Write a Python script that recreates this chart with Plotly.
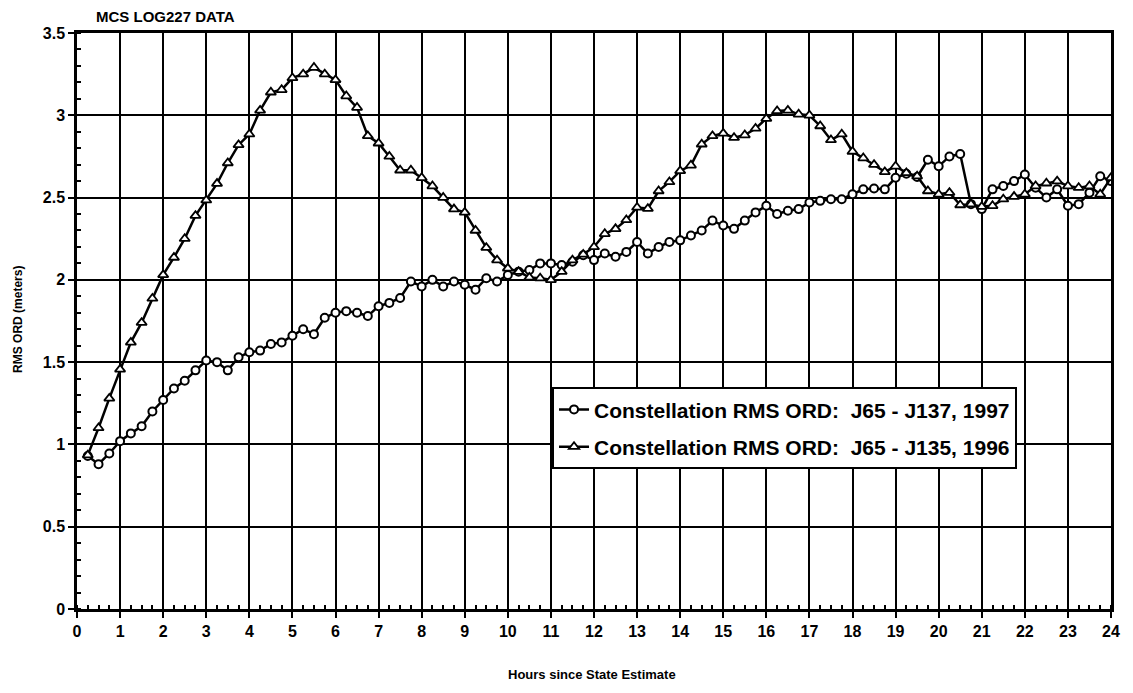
import plotly.graph_objects as go

hours = [0.25, 0.5, 0.75, 1.0, 1.25, 1.5, 1.75, 2.0, 2.25, 2.5, 2.75, 3.0,
         3.25, 3.5, 3.75, 4.0, 4.25, 4.5, 4.75, 5.0, 5.25, 5.5, 5.75, 6.0,
         6.25, 6.5, 6.75, 7.0, 7.25, 7.5, 7.75, 8.0, 8.25, 8.5, 8.75, 9.0,
         9.25, 9.5, 9.75, 10.0, 10.25, 10.5, 10.75, 11.0, 11.25, 11.5, 11.75, 12.0,
         12.25, 12.5, 12.75, 13.0, 13.25, 13.5, 13.75, 14.0, 14.25, 14.5, 14.75, 15.0,
         15.25, 15.5, 15.75, 16.0, 16.25, 16.5, 16.75, 17.0, 17.25, 17.5, 17.75, 18.0,
         18.25, 18.5, 18.75, 19.0, 19.25, 19.5, 19.75, 20.0, 20.25, 20.5, 20.75, 21.0,
         21.25, 21.5, 21.75, 22.0, 22.25, 22.5, 22.75, 23.0, 23.25, 23.5, 23.75, 24.0]

rms_1997 = [0.93, 0.88, 0.945, 1.02, 1.067, 1.11, 1.20, 1.27, 1.34, 1.387, 1.45, 1.51,
            1.50, 1.45, 1.53, 1.56, 1.57, 1.61, 1.62, 1.66, 1.70, 1.67, 1.77, 1.80,
            1.81, 1.80, 1.78, 1.84, 1.86, 1.89, 1.99, 1.96, 2.00, 1.96, 1.99, 1.97,
            1.94, 2.01, 1.99, 2.03, 2.05, 2.06, 2.10, 2.10, 2.09, 2.11, 2.15, 2.12,
            2.16, 2.14, 2.17, 2.23, 2.16, 2.20, 2.23, 2.24, 2.27, 2.30, 2.36, 2.33,
            2.31, 2.36, 2.41, 2.45, 2.40, 2.42, 2.43, 2.47, 2.48, 2.49, 2.49, 2.52,
            2.55, 2.555, 2.55, 2.62, 2.645, 2.625, 2.73, 2.69, 2.75, 2.765, 2.46, 2.43,
            2.55, 2.57, 2.60, 2.64, 2.56, 2.50, 2.55, 2.45, 2.46, 2.53, 2.63, 2.60]

rms_1996 = [0.935, 1.10, 1.28, 1.456, 1.62, 1.74, 1.887, 2.03, 2.136, 2.25, 2.39, 2.484,
            2.585, 2.71, 2.82, 2.885, 3.03, 3.14, 3.155, 3.227, 3.25, 3.29, 3.25, 3.215,
            3.117, 3.047, 2.875, 2.83, 2.75, 2.666, 2.666, 2.62, 2.57, 2.50, 2.43, 2.41,
            2.30, 2.196, 2.12, 2.07, 2.05, 2.015, 2.01, 2.0, 2.05, 2.12, 2.155, 2.20,
            2.28, 2.31, 2.364, 2.44, 2.433, 2.54, 2.595, 2.662, 2.696, 2.824, 2.875, 2.89,
            2.864, 2.88, 2.92, 2.98, 3.026, 3.03, 3.006, 3.0, 2.935, 2.85, 2.885, 2.78,
            2.74, 2.70, 2.656, 2.69, 2.65, 2.63, 2.54, 2.52, 2.53, 2.455, 2.46, 2.445,
            2.45, 2.49, 2.506, 2.52, 2.57, 2.587, 2.60, 2.57, 2.56, 2.57, 2.52, 2.62]

name_1997 = "Constellation RMS ORD:\u00a0 J65 - J137, 1997"
name_1996 = "Constellation RMS ORD:\u00a0 J65 - J135, 1996"

x_ticks = list(range(0, 25))
y_ticks = [0, 0.5, 1, 1.5, 2, 2.5, 3, 3.5]
y_tick_text = ["0", "0.5", "1", "1.5", "2", "2.5", "3", "3.5"]

FONT = "Arial, 'Liberation Sans', sans-serif"

fig = go.Figure()
fig.add_trace(go.Scatter(
    x=hours, y=rms_1997, mode="lines+markers", name=name_1997,
    legendgroup="a",
    line=dict(color="black", width=2.5),
    marker=dict(symbol="circle", size=8, color="white",
                line=dict(color="black", width=2)),
))
fig.add_trace(go.Scatter(
    x=hours, y=rms_1996, mode="lines+markers", name=name_1996,
    legendgroup="b",
    line=dict(color="black", width=2.5),
    marker=dict(symbol="triangle-up", size=9, color="white",
                line=dict(color="black", width=1.8)),
))

axis_common = dict(
    showline=True, linecolor="black", linewidth=2.5, mirror=True,
    showgrid=True, gridcolor="black", gridwidth=2,
    zeroline=False,
    ticks="outside", ticklen=6, tickwidth=2, tickcolor="black",
    tickfont=dict(family=FONT, size=16, color="black", weight="bold"),
)

fig.update_xaxes(
    range=[0, 24], tickvals=x_ticks,
    minor=dict(ticks="inside", dtick=0.25, ticklen=4, tickwidth=1.5,
               tickcolor="black", showgrid=False),
    **axis_common,
)
fig.update_yaxes(
    range=[0, 3.5], tickvals=y_ticks, ticktext=y_tick_text,
    minor=dict(ticks="inside", dtick=0.1, ticklen=4, tickwidth=1.5,
               tickcolor="black", showgrid=False),
    **axis_common,
)

fig.update_layout(
    width=1133, height=693,
    margin=dict(l=69, r=30, t=25, b=92),
    plot_bgcolor="white", paper_bgcolor="white",
    font=dict(family=FONT, color="black"),
    showlegend=True,
    legend=dict(
        x=0.4594, y=0.385, xanchor="left", yanchor="top",
        bordercolor="black", borderwidth=2, bgcolor="white",
        font=dict(family=FONT, size=21, color="black", weight="bold"),
        traceorder="grouped", tracegroupgap=7,
        itemwidth=30,
    ),
    annotations=[
        dict(text="MCS LOG227 DATA", xref="paper", yref="paper",
             x=0.0164, y=1.0295, xanchor="left", yanchor="middle",
             showarrow=False,
             font=dict(family=FONT, size=15, color="black", weight="bold")),
        dict(text="RMS ORD (meters)", xref="paper", yref="paper",
             x=-0.057, y=0.502, xanchor="center", yanchor="middle",
             textangle=-90, showarrow=False,
             font=dict(family=FONT, size=12, color="black", weight="bold")),
        dict(text="Hours since State Estimate", xref="paper", yref="paper",
             x=0.498, y=-0.113, xanchor="center", yanchor="middle",
             showarrow=False,
             font=dict(family=FONT, size=13, color="black", weight="bold")),
    ],
)

fig.write_html("out.html")
